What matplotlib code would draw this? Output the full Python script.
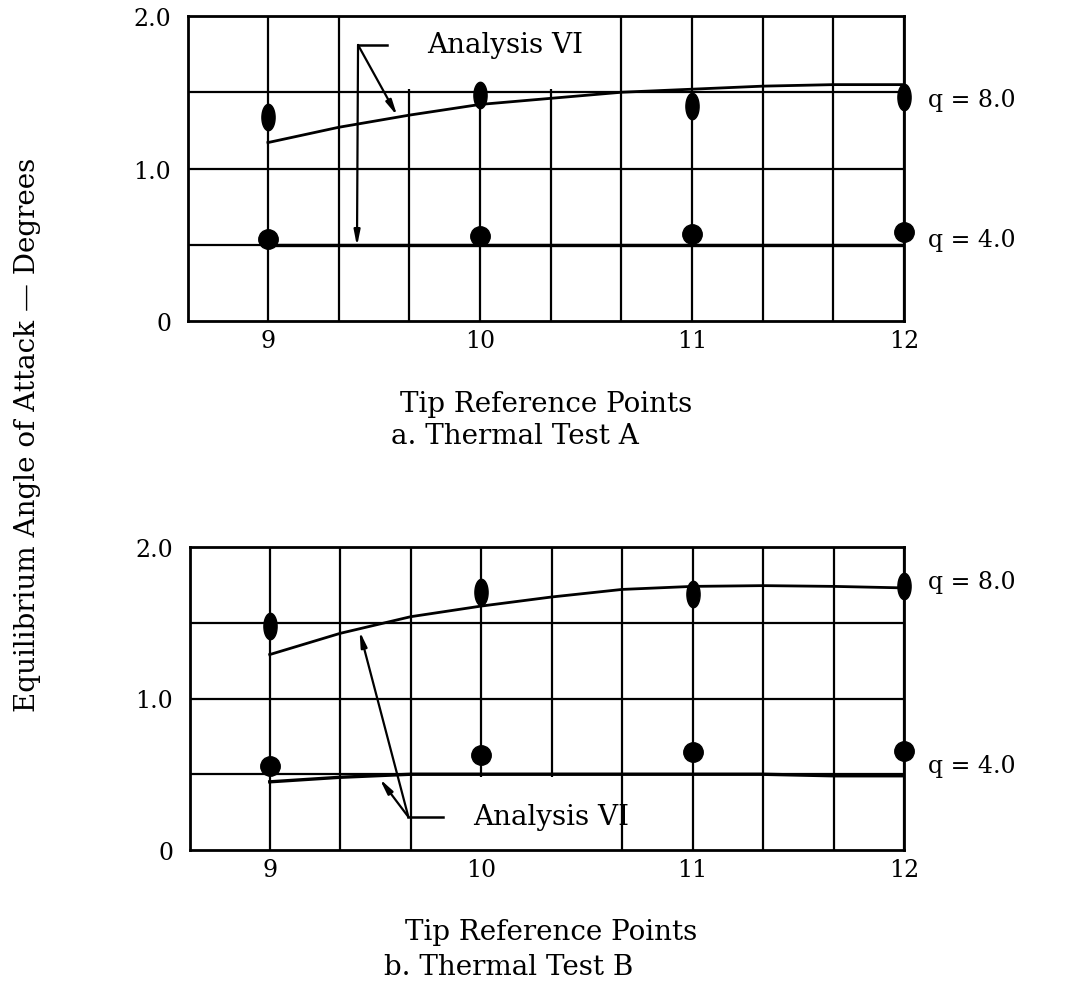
import numpy as np
import matplotlib
matplotlib.use("Agg")
import matplotlib.pyplot as plt
from matplotlib.path import Path
from matplotlib.patches import Rectangle

plt.rcParams['font.family'] = ['DejaVu Serif']

# ---------------- data ----------------
tip_points = [9, 10, 11, 12]
curve_x = [9, 9.333, 9.667, 10, 10.333, 10.667, 11, 11.333, 11.667, 12]

# Thermal Test A
a_q8_test = [1.34, 1.48, 1.41, 1.47]
a_q4_test = [0.54, 0.56, 0.57, 0.585]
a_q8_analysis = [1.17, 1.27, 1.35, 1.42, 1.46, 1.50, 1.52, 1.54, 1.55, 1.55]
a_q4_analysis = [0.50, 0.50, 0.50, 0.50, 0.50, 0.50, 0.50, 0.50, 0.50, 0.50]

# Thermal Test B
b_q8_test = [1.48, 1.70, 1.69, 1.74]
b_q4_test = [0.555, 0.63, 0.645, 0.655]
b_q8_analysis = [1.29, 1.43, 1.54, 1.61, 1.67, 1.72, 1.74, 1.745, 1.74, 1.73]
b_q4_analysis = [0.45, 0.48, 0.50, 0.50, 0.50, 0.50, 0.50, 0.50, 0.49, 0.49]

y_ticks = [0, 1.0, 2.0]
y_ticklabels = ["0", "1.0", "2.0"]
x_ticklabels = ["9", "10", "11", "12"]

# ---------------- style ----------------
FS_TICK = 17
FS_TEXT = 20
theta = np.linspace(0, 2 * np.pi, 60)
ellipse = Path(np.column_stack([0.5 * np.cos(theta), np.sin(theta)]))

fig = plt.figure(figsize=(10.73, 9.87), dpi=100)
W, H = 1073.0, 987.0


def make_axes(left_px, top_px, right_px, bottom_px):
    return fig.add_axes([left_px / W, 1 - bottom_px / H,
                         (right_px - left_px) / W, (bottom_px - top_px) / H])


def style_axes(ax):
    ax.set_xlim(8.623, 12)
    ax.set_ylim(0, 2.0)
    for x in np.arange(9, 12.01, 1 / 3):
        ax.axvline(x, color='black', lw=1.6, zorder=1)
    for y in [0.5, 1.0, 1.5]:
        ax.axhline(y, color='black', lw=1.6, zorder=1)
    for s in ax.spines.values():
        s.set_linewidth(2.0)
        s.set_zorder(7)
    ax.set_xticks(tip_points)
    ax.set_xticklabels(x_ticklabels, fontsize=FS_TICK)
    ax.set_yticks(y_ticks)
    ax.set_yticklabels(y_ticklabels, fontsize=FS_TICK)
    ax.tick_params(length=0, pad=6)
    ax.tick_params(axis='y', pad=12)


def draw_panel(ax, q8_test, q4_test, q8_an, q4_an):
    ax.plot(curve_x, q8_an, color='black', lw=2.0, zorder=3)
    ax.plot(curve_x, q4_an, color='black', lw=2.4, zorder=3)
    ax.plot(tip_points, q8_test, linestyle='none', marker=ellipse,
            markersize=19, color='black', zorder=4, clip_on=False)
    ax.plot(tip_points, q4_test, linestyle='none', marker='o',
            markersize=14, color='black', zorder=4, clip_on=False)


arrow = dict(arrowstyle='-|>,head_length=0.9,head_width=0.18',
             color='black', lw=1.6, shrinkA=0, shrinkB=0)

# ---------------- panel a ----------------
ax1 = make_axes(188, 17, 904, 322)
style_axes(ax1)
ax1.add_patch(Rectangle((9.5, 1.52), 1.1, 0.5, facecolor='white',
                        edgecolor='none', zorder=2))
draw_panel(ax1, a_q8_test, a_q4_test, a_q8_analysis, a_q4_analysis)
ax1.plot([9.425, 9.56], [1.81, 1.81], color='black', lw=1.8, zorder=5)
ax1.annotate('', xy=(9.61, 1.345), xytext=(9.425, 1.81), arrowprops=arrow,
             zorder=5)
ax1.annotate('', xy=(9.42, 0.49), xytext=(9.425, 1.81), arrowprops=arrow,
             zorder=5)
ax1.text(9.75, 1.81, 'Analysis VI', fontsize=FS_TEXT, va='center',
         ha='left', zorder=6)

# ---------------- panel b ----------------
ax2 = make_axes(190, 548, 904, 851)
style_axes(ax2)
ax2.add_patch(Rectangle((9.69, -0.02), 0.95, 0.505, facecolor='white',
                        edgecolor='none', zorder=2))
draw_panel(ax2, b_q8_test, b_q4_test, b_q8_analysis, b_q4_analysis)
ax2.plot([9.656, 9.82], [0.218, 0.218], color='black', lw=1.8, zorder=5)
ax2.annotate('', xy=(9.425, 1.445), xytext=(9.656, 0.218), arrowprops=arrow,
             zorder=5)
ax2.annotate('', xy=(9.52, 0.47), xytext=(9.656, 0.218), arrowprops=arrow,
             zorder=5)
ax2.text(9.96, 0.218, 'Analysis VI', fontsize=FS_TEXT, va='center',
         ha='left', zorder=6)

# ---------------- side labels ----------------
def ftext(xp, yp, s, fs=FS_TEXT, **kw):
    fig.text(xp / W, 1 - yp / H, s, fontsize=fs, **kw)

ftext(928, 100, 'q = 8.0', fs=FS_TICK, ha='left', va='center')
ftext(928, 240, 'q = 4.0', fs=FS_TICK, ha='left', va='center')
ftext(928, 582, 'q = 8.0', fs=FS_TICK, ha='left', va='center')
ftext(928, 767, 'q = 4.0', fs=FS_TICK, ha='left', va='center')

ftext(546, 404, 'Tip Reference Points', ha='center', va='center')
ftext(515, 437, 'a. Thermal Test A', ha='center', va='center')
ftext(551, 933, 'Tip Reference Points', ha='center', va='center')
ftext(509, 968, 'b. Thermal Test B', ha='center', va='center')

ftext(28, 435, 'Equilibrium Angle of Attack \u2014 Degrees',
      ha='center', va='center', rotation=90)

fig.savefig('out.png', dpi=100)
